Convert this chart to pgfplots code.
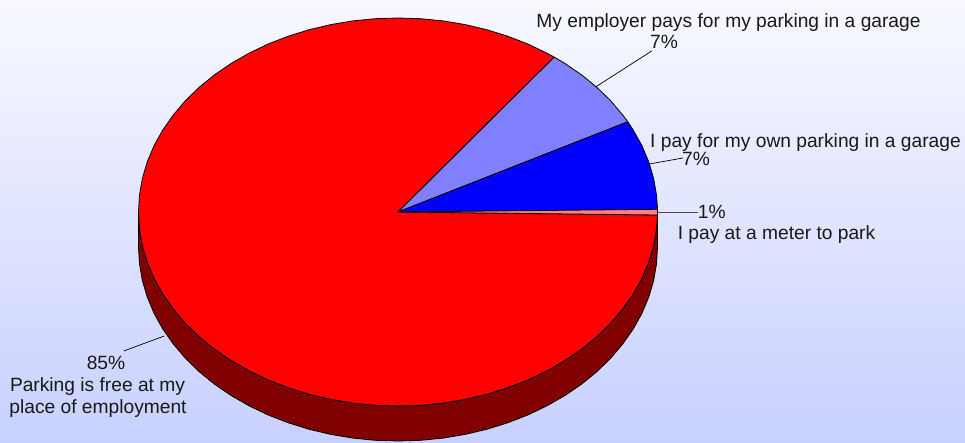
\documentclass[border=0pt]{standalone}
\usepackage{fontspec}
\setmainfont{Liberation Sans}
\usepackage{pgfplots}
\pgfplotsset{compat=1.18}
\definecolor{topbg}{HTML}{F8F9FF}
\definecolor{botbg}{HTML}{C8D0FF}
\definecolor{side}{HTML}{800000}
\definecolor{sliceA}{HTML}{8080FF}
\definecolor{sliceB}{HTML}{0000FF}
\definecolor{sliceC}{HTML}{FF8080}
\definecolor{sliceD}{HTML}{FF0000}
\begin{document}
\begin{tikzpicture}
\begin{axis}[
  scale only axis, width=965pt, height=442pt,
  xmin=-398, xmax=567, ymin=-230, ymax=212,
  axis line style={draw=none}, ticks=none,
  axis background/.style={top color=topbg, bottom color=botbg},
  clip=false,
]
% side of the pie
\addplot[draw=black, line width=0.8pt, fill=side, line join=round] coordinates {
 (259.5,0) (258.5,-16.9) (255.6,-33.7) (250.7,-50.2) (243.9,-66.4) (235.2,-82) (224.7,-97) (212.6,-111.3) (198.8,-124.7) (183.5,-137.2) (166.8,-148.6) (148.8,-158.9) (129.8,-168) (109.7,-175.8) (88.8,-182.3) (67.2,-187.4) (45.1,-191.1) (22.6,-193.3) (0,-194)
 (-22.6,-193.3) (-45.1,-191.1) (-67.2,-187.4) (-88.8,-182.3) (-109.7,-175.8) (-129.8,-168) (-148.8,-158.9) (-166.8,-148.6) (-183.5,-137.2) (-198.8,-124.7) (-212.6,-111.3) (-224.7,-97) (-235.2,-82) (-243.9,-66.4) (-250.7,-50.2) (-255.6,-33.7) (-258.5,-16.9) (-259.5,0)
 (-259.5,-35) (-258.5,-51.9) (-255.6,-68.7) (-250.7,-85.2) (-243.9,-101.4) (-235.2,-117) (-224.7,-132) (-212.6,-146.3) (-198.8,-159.7) (-183.5,-172.2) (-166.8,-183.6) (-148.8,-193.9) (-129.8,-203) (-109.7,-210.8) (-88.8,-217.3) (-67.2,-222.4) (-45.1,-226.1) (-22.6,-228.3) (0,-229)
 (22.6,-228.3) (45.1,-226.1) (67.2,-222.4) (88.8,-217.3) (109.7,-210.8) (129.8,-203) (148.8,-193.9) (166.8,-183.6) (183.5,-172.2) (198.8,-159.7) (212.6,-146.3) (224.7,-132) (235.2,-117) (243.9,-101.4) (250.7,-85.2) (255.6,-68.7) (258.5,-51.9) (259.5,-35)
 (259.5,0)
} -- cycle;
% 85 % slice
\addplot[draw=black, line width=0.8pt, fill=sliceD, line join=round] coordinates {
 (0,0) (259.5,-3) (258.5,-16.9) (255.6,-33.7) (250.7,-50.2) (243.9,-66.4) (235.2,-82) (224.7,-97) (212.6,-111.3) (198.8,-124.7) (183.5,-137.2) (166.8,-148.6) (148.8,-158.9) (129.8,-168) (109.7,-175.8) (88.8,-182.3) (67.2,-187.4) (45.1,-191.1) (22.6,-193.3) (0,-194)
 (-22.6,-193.3) (-45.1,-191.1) (-67.2,-187.4) (-88.8,-182.3) (-109.7,-175.8) (-129.8,-168) (-148.8,-158.9) (-166.8,-148.6) (-183.5,-137.2) (-198.8,-124.7) (-212.6,-111.3) (-224.7,-97) (-235.2,-82) (-243.9,-66.4) (-250.7,-50.2) (-255.6,-33.7) (-258.5,-16.9) (-259.5,0)
 (-258.5,16.9) (-255.6,33.7) (-250.7,50.2) (-243.9,66.4) (-235.2,82) (-224.7,97) (-212.6,111.3) (-198.8,124.7) (-183.5,137.2) (-166.8,148.6) (-148.8,158.9) (-129.8,168) (-109.7,175.8) (-88.8,182.3) (-67.2,187.4) (-45.1,191.1) (-22.6,193.3) (0,194)
 (22.6,193.3) (45.1,191.1) (67.2,187.4) (88.8,182.3) (109.7,175.8) (129.8,168) (148.8,158.9) (156.2,154.9)
} -- cycle;
% employer pays, garage
\addplot[draw=black, line width=0.8pt, fill=sliceA, line join=round] coordinates {
 (0,0) (156.2,154.9) (166.8,148.6) (183.5,137.2) (198.8,124.7) (212.6,111.3) (224.7,97) (229.8,90.2)
} -- cycle;
% own parking, garage
\addplot[draw=black, line width=0.8pt, fill=sliceB, line join=round] coordinates {
 (0,0) (229.8,90.2) (235.2,82) (243.9,66.4) (250.7,50.2) (255.6,33.7) (258.5,16.9) (259.5,2.7)
} -- cycle;
% meter
\addplot[draw=black, line width=0.8pt, fill=sliceC, line join=round] coordinates {
 (0,0) (259.5,2.7) (259.5,-3)
} -- cycle;
% leader lines
\addplot[black, line width=0.7pt] coordinates {(198,125.3) (253.7,161)};
\addplot[black, line width=0.7pt] coordinates {(251.3,48) (285,54)};
\addplot[black!70, line width=0.9pt] coordinates {(260,0) (299.5,0)};
\addplot[black, line width=0.7pt] coordinates {(-274.3,-139) (-233.7,-124)};
% labels
\tikzset{lab/.style={anchor=base, inner sep=0pt, font=\fontsize{19.2}{22}\selectfont, text=black!90}}
\node[lab] at (axis cs:330.5,184) {My employer pays for my parking in a garage};
\node[lab] at (axis cs:266,163.5) {7\%};
\node[lab] at (axis cs:407.5,64) {I pay for my own parking in a garage};
\node[lab] at (axis cs:298,46.5) {7\%};
\node[lab] at (axis cs:313.7,-7) {1\%};
\node[lab] at (axis cs:378.5,-28) {I pay at a meter to park};
\node[lab] at (axis cs:-292,-157) {85\%};
\node[lab] at (axis cs:-300.5,-179) {Parking is free at my};
\node[lab] at (axis cs:-300,-201) {place of employment};
\end{axis}
\end{tikzpicture}
\end{document}
